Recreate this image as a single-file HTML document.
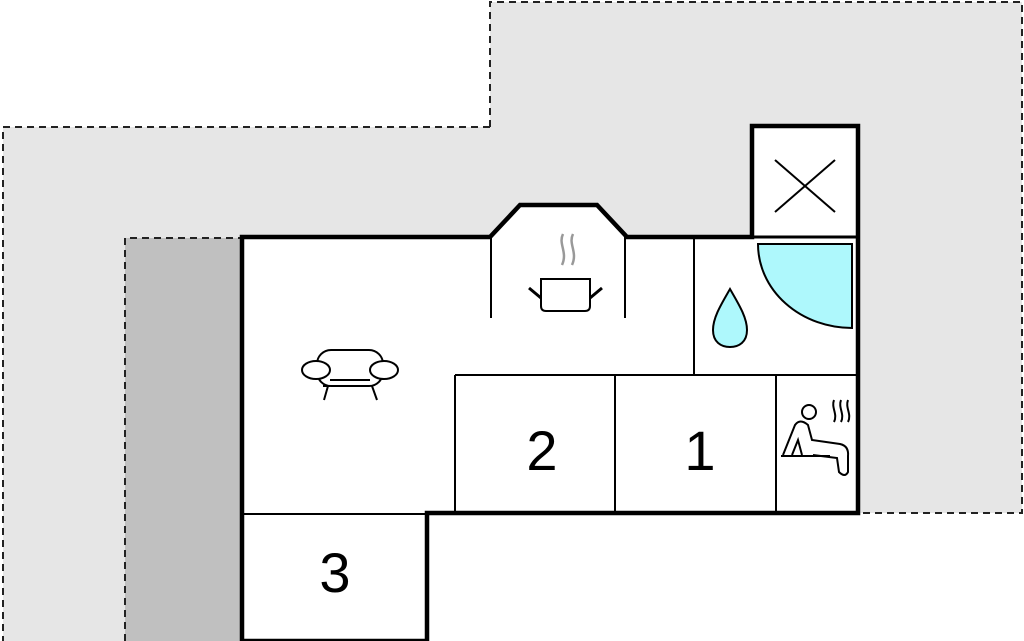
<!DOCTYPE html>
<html><head><style>html,body{margin:0;padding:0;background:#fff}svg{display:block}</style></head><body>
<svg width="1024" height="641" viewBox="0 0 1024 641" xmlns="http://www.w3.org/2000/svg">
<path d="M490,2 H1022 V513 H427 V641 H3 V127 H490 Z" fill="#e6e6e6"/>
<path d="M490,127 V2 H1022 V513 H858 M490,127 H3 V641" fill="none" stroke="#222" stroke-width="2" stroke-dasharray="7,5"/>
<rect x="125" y="238" width="117" height="403" fill="#c0c0c0"/>
<path d="M125,641 V238 H242" fill="none" stroke="#222" stroke-width="2" stroke-dasharray="7,5"/>
<path d="M242,641 V237 H490 L520,205 H597 L627,237 H752 V126 H858 V513 H427 V641 Z" fill="#fff" stroke="#000" stroke-width="4.5"/>
<g stroke="#000" stroke-width="2" fill="none">
<line x1="242" y1="514" x2="427" y2="514"/>
<line x1="491" y1="237" x2="491" y2="318"/>
<line x1="625" y1="237" x2="625" y2="318"/>
<line x1="694" y1="237" x2="694" y2="375"/>
<line x1="455" y1="375" x2="858" y2="375"/>
<line x1="455" y1="375" x2="455" y2="513"/>
<line x1="615" y1="375" x2="615" y2="513"/>
<line x1="776" y1="375" x2="776" y2="513"/>
<line x1="752" y1="237" x2="858" y2="237" stroke-width="3"/>
<line x1="775" y1="160" x2="835" y2="212"/>
<line x1="835" y1="160" x2="775" y2="212"/>
</g>
<path d="M758,244 H852 V328 A94,84 0 0 1 758,244 Z" fill="#aef8fc" stroke="#000" stroke-width="2"/>
<path d="M730,289 C722,303 713,317 713,330 C713,342 721,347 730,347 C739,347 747,342 747,330 C747,317 738,303 730,289 Z" fill="#aef8fc" stroke="#000" stroke-width="2"/>
<g stroke="#000" stroke-width="2" fill="#fff">
<path d="M541,279 H590 V306 Q590,311 585,311 H546 Q541,311 541,306 Z"/>
<line x1="529" y1="288" x2="541" y2="298" stroke-width="3"/>
<line x1="602" y1="288" x2="590" y2="298" stroke-width="3"/>
</g>
<g stroke="#999" stroke-width="2.5" fill="none">
<path d="M563,234 C558,244 568,252 562,265"/>
<path d="M573,234 C568,244 578,252 572,265"/>
</g>
<g stroke="#000" stroke-width="2" fill="#fff">
<rect x="317" y="350" width="66" height="36" rx="14"/>
<ellipse cx="316" cy="370" rx="14" ry="9"/>
<ellipse cx="384" cy="370" rx="14" ry="9"/>
<path d="M323,386 L330,386 M328,386 L324,400 M372,386 L377,400" fill="none"/>
<path d="M330,380 H370" fill="none"/>
</g>
<g stroke="#000" stroke-width="2" fill="none">
<circle cx="809" cy="412" r="7"/>
<path d="M783,455 L795,425 Q800,418 808,425 L812,440 L840,444 Q849,446 848,456 L848,472 Q845,478 839,472 L837,458 L813,455"/>
<path d="M792,455 L798,440 L802,455"/>
<line x1="781" y1="456" x2="830" y2="456"/>
<path d="M834,400 C831,408 838,414 834,422 M841,400 C838,408 845,414 841,422 M848,400 C845,408 852,414 848,422"/>
</g>
<g font-family="Liberation Sans, sans-serif" font-size="56" fill="#000" text-anchor="middle">
<text x="542" y="470">2</text>
<text x="700" y="470">1</text>
<text x="335" y="592">3</text>
</g>
</svg>
</body></html>
